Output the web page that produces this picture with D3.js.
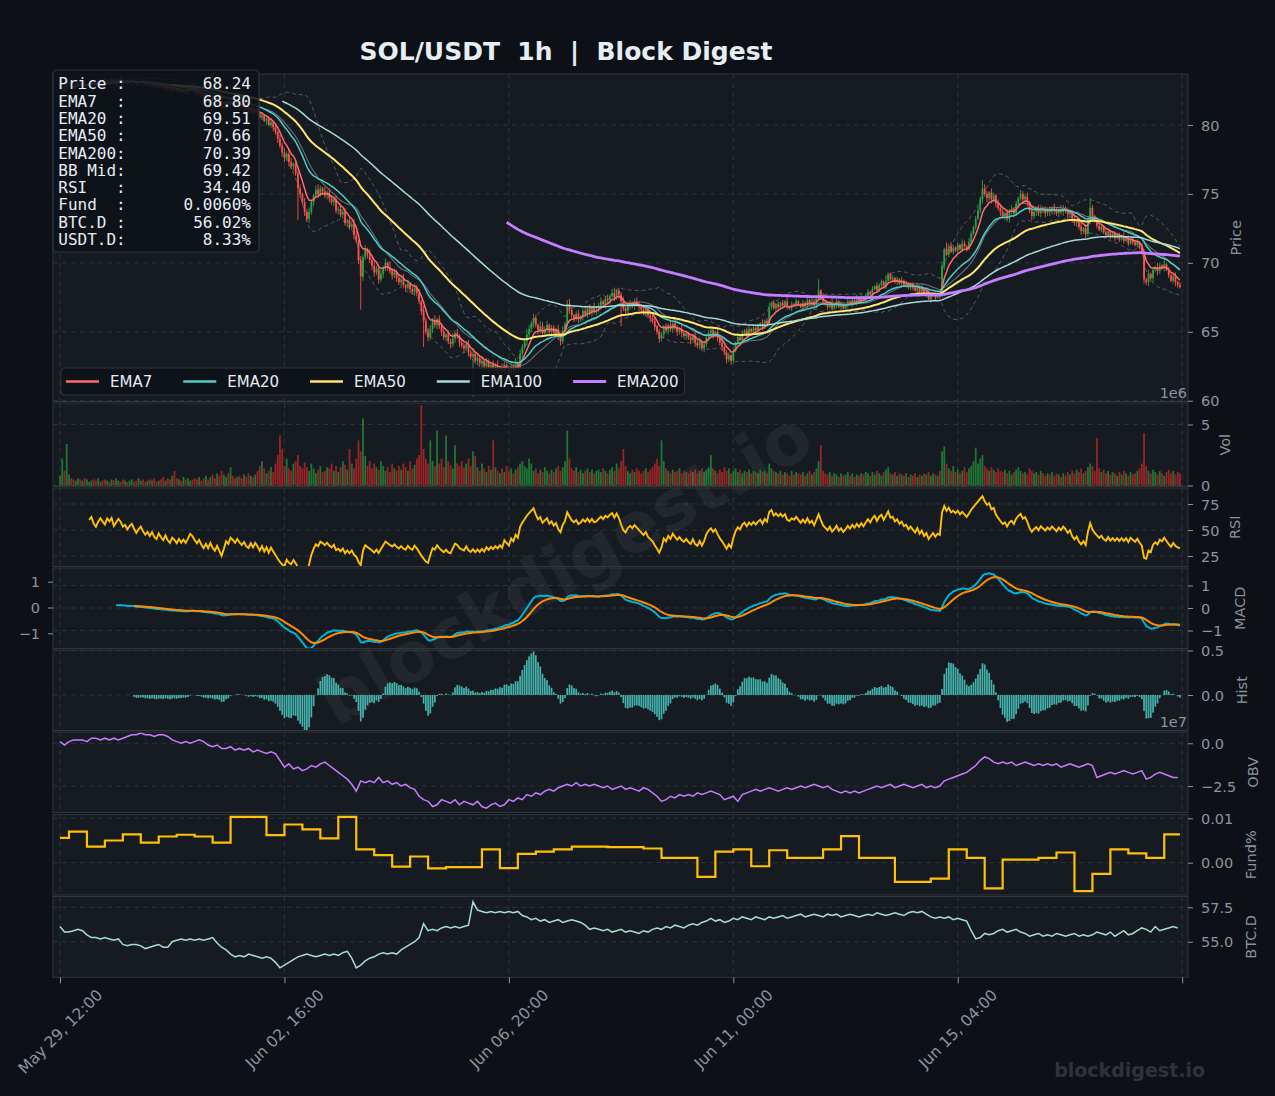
<!DOCTYPE html>
<html>
<head>
<meta charset="utf-8">
<script src="https://cdn.jsdelivr.net/npm/d3@7"></script>
<style>
  html, body { margin: 0; padding: 0; background: #0d1117; }
  svg { display: block; font-family: "DejaVu Sans", sans-serif; }
</style>
</head>
<body>
<svg id="chart" width="1275" height="1096"></svg>
<script>
// ---- data (hourly candles from May 29 12:00) ----
const closes = [
  82.6, 82.75, 82.52, 82.9, 83.05, 82.84, 82.7, 82.95, 83.1, 82.98, 83.02, 82.8, 82.88, 83.05, 83.15, 83.0, 82.92, 83.08, 83.2, 83.12,
  83.05, 83.25, 83.18, 83.3, 83.1, 83.22, 83.35, 83.28, 83.15, 83.2, 83.08, 83.18, 83.25, 83.12, 83.0, 83.1, 83.18, 83.05, 82.95, 83.02,
  82.9, 83.0, 82.85, 82.78, 82.92, 82.8, 82.7, 82.82, 82.65, 82.55, 82.68, 82.6, 82.48, 82.58, 82.45, 82.52, 82.4, 82.5, 82.62, 82.55,
  82.42, 82.3, 82.38, 82.2, 82.05, 82.15, 81.95, 82.08, 81.85, 81.7, 81.82, 81.55, 81.2, 81.4, 81.65, 81.5, 81.72, 81.6, 81.45, 81.58,
  81.4, 81.25, 81.35, 81.1, 81.0, 81.15, 80.9, 81.05, 80.85, 80.55, 80.7, 80.3, 80.45, 80.0, 80.2, 79.85, 79.5, 79.0, 78.5, 78.0,
  77.6, 77.9, 77.3, 77.0, 77.2, 76.5, 75.4, 75.0, 74.4, 73.7, 73.2, 73.7, 74.4, 74.9, 75.3, 75.0, 75.4, 75.2, 74.9, 75.1,
  74.7, 74.4, 74.6, 73.8, 73.9, 73.5, 73.7, 72.9, 73.1, 72.6, 72.8, 72.0, 71.6, 70.2, 69.0, 70.4, 71.0, 70.6, 70.2, 69.8,
  69.3, 69.6, 68.8, 69.2, 69.6, 70.0, 69.7, 69.4, 69.1, 69.3, 68.9, 68.6, 68.8, 68.4, 68.2, 68.5, 68.1, 67.9, 68.2, 67.8,
  67.2, 66.5, 65.8, 65.0, 64.6, 65.2, 65.8, 65.5, 65.9, 65.4, 65.0, 64.6, 64.8, 64.3, 64.1, 64.5, 64.9, 64.7, 64.2, 64.0,
  63.8, 64.1, 63.5, 63.2, 63.4, 62.9, 63.1, 62.7, 62.9, 62.5, 62.8, 62.4, 62.6, 62.3, 62.5, 62.2, 62.4, 62.1, 62.6, 62.3,
  62.0, 62.5, 62.2, 62.7, 62.4, 63.4, 63.9, 64.3, 64.8, 65.2, 65.6, 66.0, 65.5, 65.1, 65.4, 64.9, 65.2, 65.5, 65.0, 65.3,
  64.9, 65.2, 64.6, 64.3, 65.1, 65.6, 67.0, 66.6, 66.2, 66.0, 66.3, 65.9, 66.1, 66.5, 66.3, 66.7, 66.4, 66.8, 66.5, 66.6,
  66.9, 67.2, 67.0, 67.4, 67.3, 67.6, 67.8, 67.5, 68.0, 67.7, 67.2, 66.7, 66.5, 66.9, 67.1, 66.9, 67.2, 67.0, 66.8, 66.6,
  66.4, 66.6, 66.2, 66.0, 65.8, 65.4, 65.0, 64.5, 64.8, 65.4, 65.1, 65.5, 65.2, 65.6, 65.3, 65.0, 65.2, 64.9, 64.7, 64.9,
  64.6, 64.4, 64.7, 64.2, 64.0, 64.3, 63.8, 64.1, 64.6, 64.9, 65.1, 64.8, 65.0, 64.6, 64.2, 63.9, 63.5, 63.0, 63.3, 62.9,
  63.6, 64.2, 64.6, 64.4, 64.9, 65.1, 64.8, 65.2, 65.0, 65.3, 65.1, 65.4, 65.6, 65.3, 65.8, 65.6, 66.8, 67.1, 66.7, 67.0,
  66.8, 67.1, 66.9, 67.2, 66.8, 66.7, 67.0, 66.9, 67.2, 67.0, 66.8, 67.1, 66.9, 67.3, 67.0, 67.2, 66.9, 67.4, 68.0, 67.6,
  67.2, 67.0, 66.8, 67.1, 66.7, 66.9, 67.2, 66.8, 67.0, 66.7, 66.9, 67.2, 67.0, 67.3, 67.1, 67.4, 67.2, 67.5, 67.3, 67.6,
  67.9, 67.7, 68.1, 68.3, 68.0, 68.4, 68.6, 68.3, 68.7, 69.2, 68.8, 68.9, 68.6, 68.8, 68.5, 68.7, 68.4, 68.5, 68.2, 68.4,
  68.2, 68.0, 68.3, 67.9, 68.1, 67.7, 67.9, 67.4, 67.6, 67.8, 67.5, 67.7, 67.6, 69.8, 71.0, 70.6, 71.2, 70.8, 71.1, 70.9,
  71.3, 71.0, 71.4, 71.2, 71.0, 71.5, 72.1, 72.6, 73.2, 73.8, 74.6, 75.4, 75.0, 74.7, 75.1, 74.6, 74.9, 74.3, 74.0, 73.7,
  73.4, 73.6, 73.2, 73.7, 73.9, 73.6, 74.3, 74.7, 75.0, 74.6, 74.8, 74.4, 73.8, 73.4, 73.7, 73.9, 73.6, 74.0, 73.8, 73.6,
  73.9, 73.7, 74.0, 73.8, 73.6, 73.9, 73.7, 74.0, 73.8, 73.5, 73.7, 73.2, 72.9, 73.1, 72.6, 72.3, 72.5, 72.1, 73.1, 74.0,
  73.4, 73.0, 72.7, 72.4, 72.6, 72.2, 72.0, 72.3, 71.9, 72.1, 71.8, 72.0, 71.7, 71.9, 71.6, 71.8, 71.4, 71.7, 71.5, 71.3,
  71.5, 71.1, 70.8, 68.8, 68.6, 69.2, 68.9, 69.5, 69.7, 69.4, 69.8, 69.6, 69.9, 69.5, 69.1, 68.7, 69.0, 68.6, 68.4, 68.24
];
// wick lengths above / below the body, tenths of a dollar, one base-36 char per candle
const wickHi = [
  "1121210112 1211021121 2101121211 0211212101 1212110211 1121201121 2110121212 1021121101 1212101121 2112312132",
  "3243122313 2321342132 3213242312 2431323142 3213231423 2324131232 3142332413 2313242312 2132413231 3213241321",
  "2314232143 2321432312 2132313421 2312423132 2312313412 2313212321 1321231221 2131221312 1213231212 2312131221",
  "2131212312 1213123121 2121312121 1212131281 2121312121 1212131212 2121312141 1212131212 2121312121 1213152321",
  "2132132123 2632132132 2132312132 2313213213 1213213212 2131231327 2131213212 2121312121 2132131213 2131212312"
];
const wickLo = [
  "1211210121 2112101211 1021121121 2110211212 1211201121 2112112101 1212113121 2121312131 2131213121 2131232323",
  "323232n323 2323132323 3232323232 2323o32323 3232323232 3232323232 23j2323232 3232323232 3232t23232 2323232323",
  "3232323232 2323232323 2323232323 2323232323 2323232323 i232323232 2323232323 2323232323 2323232323 2323232323",
  "2121212121 1212121212 2121212121 1212121212 2121212121 1212121212 2121212121 1212121212 2121212131 2121312121",
  "2121212121 2323232323 2323232323 2323232323 2323232323 2323232323 2121212121 2121212121 2123232323 2121212321"
];
// volume, units of 1e5
const volumes = [
  8, 22, 12, 34, 9, 6, 5, 4, 6, 5, 4, 6, 5, 3, 4, 5, 4, 6, 3, 4,
  5, 4, 3, 5, 4, 6, 4, 3, 5, 4, 3, 4, 5, 3, 4, 6, 4, 5, 3, 4,
  5, 4, 6, 3, 4, 5, 7, 4, 6, 5, 8, 12, 6, 5, 4, 7, 5, 6, 4, 5,
  6, 5, 7, 4, 6, 8, 5, 7, 9, 6, 10, 8, 12, 9, 7, 10, 15, 8, 6, 7,
  8, 6, 9, 7, 10, 8, 7, 9, 12, 16, 20, 14, 10, 12, 15, 11, 18, 25, 41, 30,
  16, 22, 14, 12, 18, 20, 25, 16, 14, 19, 15, 12, 18, 14, 10, 13, 16, 11, 12, 15,
  14, 18, 12, 16, 11, 15, 20, 17, 13, 30, 18, 14, 22, 37, 28, 55, 24, 16, 20, 14,
  18, 15, 13, 20, 16, 12, 15, 11, 18, 14, 12, 16, 13, 18, 15, 12, 20, 14, 17, 22,
  25, 66, 30, 22, 18, 37, 20, 16, 45, 18, 22, 15, 41, 20, 17, 14, 33, 18, 16, 20,
  15, 18, 22, 16, 28, 24, 15, 12, 18, 14, 11, 16, 13, 37, 15, 12, 10, 14, 11, 16,
  12, 14, 10, 13, 15, 18, 20, 16, 14, 22, 18, 12, 14, 10, 13, 11, 15, 12, 10, 13,
  11, 14, 16, 12, 15, 20, 45, 22, 14, 12, 15, 11, 13, 10, 12, 14, 11, 13, 10, 12,
  13, 11, 14, 12, 10, 13, 15, 12, 18, 14, 20, 30, 16, 12, 10, 13, 11, 14, 12, 10,
  12, 14, 11, 13, 15, 18, 22, 16, 37, 20, 14, 12, 10, 13, 11, 12, 14, 10, 12, 11,
  10, 12, 11, 13, 10, 12, 14, 11, 13, 15, 25, 14, 12, 10, 13, 11, 15, 12, 14, 10,
  12, 14, 11, 13, 10, 12, 11, 13, 10, 12, 11, 10, 13, 11, 12, 10, 18, 14, 12, 11,
  10, 12, 9, 11, 10, 8, 12, 9, 11, 10, 9, 11, 8, 10, 12, 9, 11, 14, 20, 33,
  12, 10, 9, 11, 8, 10, 9, 7, 10, 8, 9, 11, 8, 10, 7, 9, 8, 10, 9, 11,
  10, 8, 11, 9, 12, 10, 8, 11, 13, 15, 10, 9, 11, 8, 10, 9, 8, 10, 7, 9,
  8, 10, 7, 9, 8, 10, 9, 11, 8, 10, 9, 8, 12, 28, 32, 18, 14, 12, 16, 11,
  13, 10, 12, 15, 11, 14, 16, 20, 31, 18, 22, 25, 16, 14, 12, 15, 13, 11, 14, 12,
  11, 13, 10, 12, 9, 11, 13, 15, 12, 10, 11, 9, 14, 12, 10, 11, 9, 12, 10, 8,
  10, 9, 11, 8, 10, 9, 7, 10, 8, 11, 9, 12, 10, 13, 11, 14, 10, 12, 15, 18,
  16, 12, 39, 14, 11, 13, 10, 12, 9, 11, 10, 8, 11, 9, 12, 10, 8, 11, 9, 10,
  12, 14, 18, 43, 16, 12, 10, 13, 11, 9, 12, 10, 8, 11, 13, 10, 12, 9, 11, 10
];
// OBV every 2 hours, units of 1e6
const obvValues = [
  1, -1, 1, 2, 2, 2, 1, 3, 3, 2, 3, 2, 3, 2, 3, 4, 5, 5, 6, 5,
  5, 4, 5, 5, 4, 2, 1, 0, 1, 0, 1, 2, 1, -1, -2, -1, -3, -3, -2, -4,
  -3, -4, -3, -5, -4, -5, -6, -5, -6, -10, -14, -12, -15, -14, -16, -15, -13, -14, -12, -11,
  -13, -15, -17, -19, -21, -24, -28, -22, -23, -22, -23, -20, -23, -22, -24, -23, -25, -24, -26, -27,
  -31, -33, -34, -37, -36, -33, -34, -35, -33, -36, -34, -35, -36, -34, -37, -38, -36, -35, -37, -36,
  -33, -34, -32, -33, -30, -31, -29, -30, -28, -27, -28, -26, -25, -24, -25, -23, -25, -24, -25, -24,
  -25, -26, -25, -27, -26, -25, -27, -26, -27, -28, -26, -27, -29, -31, -34, -33, -31, -32, -30, -31,
  -30, -31, -29, -30, -29, -28, -29, -30, -33, -32, -31, -34, -30, -29, -28, -27, -28, -27, -26, -27,
  -28, -27, -26, -27, -26, -25, -26, -25, -24, -25, -26, -25, -27, -28, -29, -28, -29, -28, -29, -28,
  -27, -26, -25, -26, -25, -24, -26, -25, -24, -25, -26, -25, -24, -26, -25, -26, -25, -22, -21, -20,
  -19, -18, -17, -15, -13, -10, -8, -9, -11, -12, -11, -12, -11, -13, -12, -11, -12, -13, -12, -13,
  -12, -13, -12, -14, -13, -12, -13, -14, -13, -12, -13, -20, -19, -18, -17, -18, -17, -16, -17, -18,
  -17, -16, -21, -20, -18, -17, -18, -19, -20, -20
];
// funding rate %, first value until hour 4, then one value per 8h
const fundRates = [
  0.0056, 0.0070, 0.0036, 0.0050, 0.0064, 0.0045, 0.0059, 0.0063, 0.0059, 0.0045,
  0.0103, 0.0103, 0.0062, 0.0086, 0.0075, 0.0055, 0.0103, 0.0030, 0.0017, -0.0009,
  0.0014, -0.0013, -0.0010, -0.0010, 0.0030, -0.0012, 0.0020, 0.0025, 0.0030, 0.0036,
  0.0036, 0.0035, 0.0035, 0.0032, 0.0011, 0.0011, -0.0032, 0.0025, 0.0030, -0.0008,
  0.0028, 0.0011, 0.0011, 0.0030, 0.0060, 0.0011, 0.0011, -0.0043, -0.0043, -0.0036,
  0.0030, 0.0011, -0.0058, 0.0007, 0.0007, 0.0011, 0.0023, -0.0064, -0.0025, 0.0030,
  0.0021, 0.0011, 0.0064
];
// BTC dominance every 2 hours
const btcDom = [
  56.1, 55.7, 55.7, 55.8, 55.9, 55.8, 55.5, 55.3, 55.3, 55.2, 55.3, 55.2, 55.1, 55.2, 54.8, 54.7, 54.8, 54.8, 54.7, 54.5,
  54.6, 54.7, 54.8, 54.6, 54.6, 55.0, 55.1, 55.2, 55.1, 55.2, 55.1, 55.2, 55.1, 55.2, 55.3, 54.9, 54.6, 54.4, 54.1, 53.9,
  54.0, 53.9, 54.1, 54.0, 53.9, 53.8, 53.9, 53.8, 53.5, 53.1, 53.3, 53.5, 53.7, 53.9, 54.0, 54.1, 54.0, 53.9, 54.0, 54.1,
  54.0, 54.1, 54.0, 54.2, 54.3, 53.8, 53.1, 53.3, 53.6, 53.8, 53.9, 54.1, 54.2, 54.1, 54.2, 54.1, 54.4, 54.6, 54.8, 55.0,
  55.3, 56.3, 55.8, 55.9, 55.8, 56.0, 56.1, 56.0, 56.1, 56.0, 56.1, 56.2, 57.9, 57.3, 57.2, 57.1, 57.2, 57.1, 57.2, 57.1,
  57.2, 57.1, 57.2, 56.9, 56.8, 56.6, 56.7, 56.5, 56.6, 56.4, 56.5, 56.6, 56.4, 56.5, 56.6, 56.5, 56.4, 56.2, 55.9, 56.0,
  55.9, 55.8, 55.9, 55.7, 55.8, 55.9, 55.7, 55.8, 55.7, 55.6, 55.8, 55.7, 55.9, 56.0, 55.9, 56.1, 56.0, 56.2, 56.1, 56.0,
  56.2, 56.3, 56.2, 56.4, 56.5, 56.7, 56.5, 56.6, 56.4, 56.5, 56.7, 56.6, 56.8, 56.7, 56.6, 56.8, 56.7, 56.6, 56.8, 56.7,
  56.8, 56.9, 56.7, 56.8, 56.9, 57.0, 56.8, 56.9, 57.0, 56.9, 56.8, 57.0, 56.9, 57.0, 56.8, 56.9, 57.0, 56.9, 56.8, 56.9,
  57.0, 56.9, 57.1, 57.0, 56.9, 57.0, 57.1, 57.0, 56.9, 57.1, 57.2, 57.1, 57.2, 57.0, 56.8, 56.7, 56.8, 56.7, 56.8, 56.6,
  56.7, 56.6, 56.5, 55.8, 55.2, 55.3, 55.6, 55.5, 55.6, 55.8, 55.9, 55.7, 55.8, 55.9, 55.7, 55.6, 55.4, 55.5, 55.6, 55.4,
  55.5, 55.4, 55.6, 55.5, 55.4, 55.5, 55.6, 55.4, 55.5, 55.4, 55.5, 55.7, 55.6, 55.5, 55.7, 55.4, 55.6, 55.8, 55.5, 55.6,
  55.8, 56.0, 55.9, 55.7, 56.1, 55.8, 55.9, 56.0, 56.1, 56.0
];
const infoRows = [
  ['Price :', '68.24'], ['EMA7  :', '68.80'], ['EMA20 :', '69.51'], ['EMA50 :', '70.66'],
  ['EMA200:', '70.39'], ['BB Mid:', '69.42'], ['RSI   :', '34.40'], ['Fund  :', '0.0060%'],
  ['BTC.D :', '56.02%'], ['USDT.D:', '8.33%']
];
const emaSpans = [7, 20, 50, 100, 200];
const emaColors = ['#ff6b6b', '#4ecdc4', '#ffe66d', '#a8dadc', '#c77dff'];
const emaWidths = [1.5, 1.5, 2, 1.5, 2.8];
const xTickIdx = [0, 100, 200, 300, 400, 500];
const startTime = new Date(2024, 4, 29, 12);

// ---- derived series ----
const N = closes.length;
const opens = closes.map((c, i) => i ? closes[i - 1] : c);
const hiStr = wickHi.join('').replace(/\s/g, '');
const loStr = wickLo.join('').replace(/\s/g, '');
const highs = closes.map((c, i) => Math.max(c, opens[i]) + parseInt(hiStr[i], 36) / 10);
const lows = closes.map((c, i) => Math.min(c, opens[i]) - parseInt(loStr[i], 36) / 10);

function emaFull(arr, span) {
  const a = 2 / (span + 1);
  let prev = arr[0];
  return arr.map((v, i) => (prev = i === 0 ? v : a * v + (1 - a) * prev));
}
const emas = emaSpans.map(s => emaFull(closes, s).map((v, i) => [i, i >= s - 1 ? v : null]));

const bbMid = [], bbUp = [], bbLo = [];
for (let i = 0; i < N; i++) {
  if (i < 19) { bbMid.push([i, null]); bbUp.push([i, null]); bbLo.push([i, null]); continue; }
  const w = closes.slice(i - 19, i + 1);
  const m = d3.mean(w), sd = d3.deviation(w);
  bbMid.push([i, m]); bbUp.push([i, m + 2 * sd]); bbLo.push([i, m - 2 * sd]);
}

let ag = 0, al = 0;
const rsi = closes.map((c, i) => {
  const ch = i ? c - closes[i - 1] : 0;
  ag = ag + (Math.max(ch, 0) - ag) / 14;
  al = al + (Math.max(-ch, 0) - al) / 14;
  return [i, i >= 13 ? 100 - 100 / (1 + ag / al) : null];
});

const e12 = emaFull(closes, 12), e26 = emaFull(closes, 26);
const macdRaw = e12.map((v, i) => v - e26[i]);
const sigRaw = emaFull(macdRaw, 9);
const macd = macdRaw.map((v, i) => [i, i >= 25 ? v : null]);
const signal = sigRaw.map((v, i) => [i, i >= 33 ? v : null]);
const hist = macdRaw.map((v, i) => [i, v - sigRaw[i]]).filter(d => d[0] >= 33);

const obv = obvValues.map((v, k) => [2 * k, v * 1e6]);
const btc = btcDom.map((v, k) => [2 * k, v]);
const fund = fundRates.map((v, k) => [k === 0 ? 0 : 4 + 8 * (k - 1), v]);
fund.push([N - 1, fundRates[fundRates.length - 1]]);

// ---- layout ----
const svg = d3.select('#chart');
const L = 53, R = 1188;
const x = d3.scaleLinear().domain([0, 500]).range([60, 1182.2]);
const f1 = d3.format('.1f');
const panels = {
  price: { top: 74, bottom: 401.5, y: d3.scaleLinear().domain([60, 80]).range([400.7, 125]), ticks: [60, 65, 70, 75, 80], fmt: d3.format('d'), label: 'Price', lx: 1236 },
  vol: { top: 403, bottom: 486.5, y: d3.scaleLinear().domain([0, 5e6]).range([485.5, 424.5]), ticks: [0, 5e6], fmt: v => d3.format('d')(v / 1e6), label: 'Vol', lx: 1225 },
  rsi: { top: 488, bottom: 566.5, y: d3.scaleLinear().domain([25, 75]).range([556, 504]), ticks: [25, 50, 75], fmt: d3.format('d'), label: 'RSI', lx: 1235 },
  macd: { top: 568, bottom: 648.5, y: d3.scaleLinear().domain([-1, 1]).range([630.5, 585.5]), ticks: [-1, 0, 1], fmt: d3.format('d'), label: 'MACD', lx: 1240 },
  hist: { top: 650, bottom: 730.5, y: d3.scaleLinear().domain([0, 0.5]).range([695, 650.5]), ticks: [0, 0.5], fmt: f1, label: 'Hist', lx: 1242 },
  obv: { top: 732, bottom: 812.5, y: d3.scaleLinear().domain([-2.5e7, 0]).range([786, 743.3]), ticks: [-2.5e7, 0], fmt: v => f1(v / 1e7), label: 'OBV', lx: 1253 },
  fund: { top: 814.5, bottom: 895, y: d3.scaleLinear().domain([0, 0.01]).range([862.7, 818.3]), ticks: [0, 0.01], fmt: d3.format('.2f'), label: 'Fund%', lx: 1251 },
  btc: { top: 896.5, bottom: 977.3, y: d3.scaleLinear().domain([55, 57.5]).range([941.7, 907.3]), ticks: [55, 57.5], fmt: f1, label: 'BTC.D', lx: 1251 }
};
const GRID = '#30363d', TXT = '#8b949e';

const defs = svg.append('defs');
Object.entries(panels).forEach(([k, p]) => {
  defs.append('clipPath').attr('id', 'clip-' + k)
    .append('rect').attr('x', L).attr('y', p.top).attr('width', R - L).attr('height', p.bottom - p.top);
  svg.append('rect').attr('x', L).attr('y', p.top).attr('width', R - L).attr('height', p.bottom - p.top)
    .attr('fill', '#161b22');
  const g = svg.append('g').attr('clip-path', `url(#clip-${k})`);
  g.selectAll('.hg').data(p.ticks).enter().append('line')
    .attr('x1', L).attr('x2', R).attr('y1', d => p.y(d)).attr('y2', d => p.y(d))
    .attr('stroke', GRID).attr('stroke-width', 0.9).attr('stroke-dasharray', '5,4');
  g.selectAll('.vg').data(xTickIdx).enter().append('line')
    .attr('x1', d => x(d)).attr('x2', d => x(d)).attr('y1', p.top).attr('y2', p.bottom)
    .attr('stroke', GRID).attr('stroke-width', 0.9).attr('stroke-dasharray', '5,4');
  p.g = svg.append('g').attr('clip-path', `url(#clip-${k})`);
});

// watermark
svg.append('text').attr('transform', 'translate(565,568) rotate(-30)')
  .attr('text-anchor', 'middle').attr('dominant-baseline', 'central')
  .style('font-size', '70px').style('font-weight', 'bold')
  .attr('fill', '#ffffff').attr('fill-opacity', 0.055).text('blockdigest.io');
Object.values(panels).forEach(p => p.g.raise());

const line = (p, curve) => d3.line().defined(d => d[1] != null)
  .x(d => x(d[0])).y(d => p.y(d[1])).curve(curve || d3.curveLinear);

// ---- price ----
const P = panels.price;
P.g.append('path').datum(bbUp).attr('d', line(P)).attr('fill', 'none')
  .attr('stroke', '#8b949e').attr('stroke-opacity', 0.55).attr('stroke-width', 1).attr('stroke-dasharray', '4,3');
P.g.append('path').datum(bbLo).attr('d', line(P)).attr('fill', 'none')
  .attr('stroke', '#8b949e').attr('stroke-opacity', 0.55).attr('stroke-width', 1).attr('stroke-dasharray', '4,3');
P.g.append('path').datum(bbMid).attr('d', line(P)).attr('fill', 'none')
  .attr('stroke', '#8b949e').attr('stroke-opacity', 0.7).attr('stroke-width', 1.1);
const candles = P.g.selectAll('.candle').data(d3.range(N)).enter().append('g');
const colorOf = i => closes[i] >= opens[i] ? '#2ea043' : '#f85149';
candles.append('line')
  .attr('x1', i => x(i)).attr('x2', i => x(i))
  .attr('y1', i => P.y(highs[i])).attr('y2', i => P.y(lows[i]))
  .attr('stroke', colorOf).attr('stroke-width', 0.9);
candles.append('rect')
  .attr('x', i => x(i) - 0.9).attr('width', 1.8)
  .attr('y', i => P.y(Math.max(opens[i], closes[i])))
  .attr('height', i => Math.max(0.8, Math.abs(P.y(opens[i]) - P.y(closes[i]))))
  .attr('fill', colorOf);
emas.forEach((s, k) => {
  P.g.append('path').datum(s).attr('d', line(P)).attr('fill', 'none')
    .attr('stroke', emaColors[k]).attr('stroke-width', emaWidths[k]);
});

// ---- volume ----
const V = panels.vol;
V.g.selectAll('rect').data(volumes).enter().append('rect')
  .attr('x', (d, i) => x(i) - 0.9).attr('width', 1.8)
  .attr('y', d => V.y(d * 1e5)).attr('height', d => V.y(0) - V.y(d * 1e5))
  .attr('fill', (d, i) => closes[i] >= opens[i] ? '#26a641' : '#c62828')
  .attr('fill-opacity', (d, i) => closes[i] >= opens[i] ? 0.65 : 0.75);

// ---- RSI ----
const Ri = panels.rsi;
Ri.g.append('path').datum(rsi).attr('d', line(Ri)).attr('fill', 'none')
  .attr('stroke', '#ffc107').attr('stroke-width', 1.9);

// ---- MACD ----
const M = panels.macd;
M.g.append('path').datum(macd).attr('d', line(M)).attr('fill', 'none')
  .attr('stroke', '#00b4d8').attr('stroke-width', 2);
M.g.append('path').datum(signal).attr('d', line(M)).attr('fill', 'none')
  .attr('stroke', '#ff8c00').attr('stroke-width', 2);

// ---- Hist ----
const Hs = panels.hist;
Hs.g.selectAll('rect').data(hist).enter().append('rect')
  .attr('x', d => x(d[0]) - 0.85).attr('width', 1.7)
  .attr('y', d => Hs.y(Math.max(0, d[1])))
  .attr('height', d => Math.abs(Hs.y(d[1]) - Hs.y(0)))
  .attr('fill', '#4ecdc4').attr('fill-opacity', 0.85);

// ---- OBV / Fund / BTC.D ----
const O = panels.obv;
O.g.append('path').datum(obv).attr('d', line(O)).attr('fill', 'none')
  .attr('stroke', '#c77dff').attr('stroke-width', 1.5);
const F = panels.fund;
F.g.append('path').datum(fund).attr('d', line(F, d3.curveStepAfter)).attr('fill', 'none')
  .attr('stroke', '#ffc107').attr('stroke-width', 2.2);
const B = panels.btc;
B.g.append('path').datum(btc).attr('d', line(B)).attr('fill', 'none')
  .attr('stroke', '#a8dadc').attr('stroke-width', 1.5);

// ---- spines, axes, labels ----
function styleAxis(g) {
  g.select('.domain').remove();
  g.selectAll('.tick line').attr('stroke', TXT);
  g.selectAll('.tick text').attr('fill', TXT)
    .style('font-size', '14.5px').style('font-family', '"DejaVu Sans", sans-serif');
}
Object.values(panels).forEach(p => {
  svg.append('rect').attr('x', L).attr('y', p.top).attr('width', R - L).attr('height', p.bottom - p.top)
    .attr('fill', 'none').attr('stroke', '#30363d').attr('stroke-width', 1);
  const ag = svg.append('g').attr('transform', `translate(${R},0)`)
    .call(d3.axisRight(p.y).tickValues(p.ticks).tickFormat(p.fmt).tickSize(5).tickPadding(8));
  styleAxis(ag);
  ag.selectAll('.tick text').attr('dy', null).attr('dominant-baseline', 'central');
  svg.append('text').attr('transform', `translate(${p.lx},${(p.top + p.bottom) / 2}) rotate(-90)`)
    .attr('text-anchor', 'middle').attr('dominant-baseline', 'central')
    .attr('fill', TXT).style('font-size', '14.5px').text(p.label);
});
// extra left scale on the MACD panel
const macdLeft = d3.scaleLinear().domain([-1, 1]).range([633.3, 581.7]);
const lg = svg.append('g').attr('transform', `translate(${L},0)`)
  .call(d3.axisLeft(macdLeft).tickValues([-1, 0, 1]).tickFormat(d3.format('d')).tickSize(5).tickPadding(8));
styleAxis(lg);
lg.selectAll('.tick text').attr('dy', null).attr('dominant-baseline', 'central');
// offset texts
svg.append('text').attr('x', R - 1).attr('y', 398).attr('text-anchor', 'end')
  .attr('fill', TXT).style('font-size', '14.5px').text('1e6');
svg.append('text').attr('x', R - 1).attr('y', 727).attr('text-anchor', 'end')
  .attr('fill', TXT).style('font-size', '14.5px').text('1e7');

// x axis
const xg = svg.append('g').attr('transform', `translate(0,${panels.btc.bottom})`)
  .call(d3.axisBottom(x).tickValues(xTickIdx).tickSize(6)
    .tickFormat(i => i < N ? d3.timeFormat('%b %d, %H:%M')(d3.timeHour.offset(startTime, i)) : ''));
styleAxis(xg);
xg.selectAll('.tick text').each(function () {
  const t = d3.select(this);
  t.attr('dy', null).attr('text-anchor', 'middle').attr('dominant-baseline', 'central').style('font-size', '15.5px');
  const len = this.getComputedTextLength();
  const cy = 10 + (len + 15) * Math.SQRT1_2 / 2;
  t.attr('y', cy).attr('transform', `rotate(-45,0,${cy})`);
});

// ---- legend ----
const leg = svg.append('g');
const legBox = leg.append('rect').attr('x', 61).attr('y', 368).attr('height', 27).attr('rx', 4)
  .attr('fill', '#0d1117').attr('fill-opacity', 0.85).attr('stroke', '#30363d');
let lx = 66;
emaSpans.forEach((s, k) => {
  leg.append('line').attr('x1', lx).attr('x2', lx + 33).attr('y1', 381.5).attr('y2', 381.5)
    .attr('stroke', emaColors[k]).attr('stroke-width', k === 4 ? 3 : 2.5);
  const t = leg.append('text').attr('x', lx + 44).attr('y', 381.5).attr('dominant-baseline', 'central')
    .attr('fill', '#e6edf3').style('font-size', '15px').text('EMA' + s);
  lx = lx + 44 + t.node().getComputedTextLength() + 31;
});
legBox.attr('width', lx - 31 + 6 - 61);

// ---- info box ----
svg.append('rect').attr('x', 53).attr('y', 70).attr('width', 206).attr('height', 182).attr('rx', 4)
  .attr('fill', '#0d1117').attr('fill-opacity', 0.85).attr('stroke', '#30363d').attr('stroke-width', 1.2);
svg.append('g').selectAll('text').data(infoRows).enter().append('text')
  .attr('x', 58.3).attr('y', (d, i) => 89.3 + i * 17.3)
  .attr('xml:space', 'preserve').style('white-space', 'pre')
  .style('font-family', '"DejaVu Sans Mono", monospace').style('font-size', '16px')
  .attr('fill', '#e6edf3').text(d => d[0] + d[1].padStart(13, ' '));

// ---- title & footer ----
svg.append('text').attr('x', 566).attr('y', 60).attr('text-anchor', 'middle')
  .attr('xml:space', 'preserve').style('white-space', 'pre')
  .style('font-size', '25px').style('font-weight', 'bold').attr('fill', '#e6edf3')
  .text('SOL/USDT  1h  |  Block Digest');
svg.append('text').attr('x', 1205).attr('y', 1077).attr('text-anchor', 'end')
  .style('font-size', '19px').style('font-weight', 'bold').attr('fill', '#2d333b')
  .text('blockdigest.io');
</script>
</body>
</html>
